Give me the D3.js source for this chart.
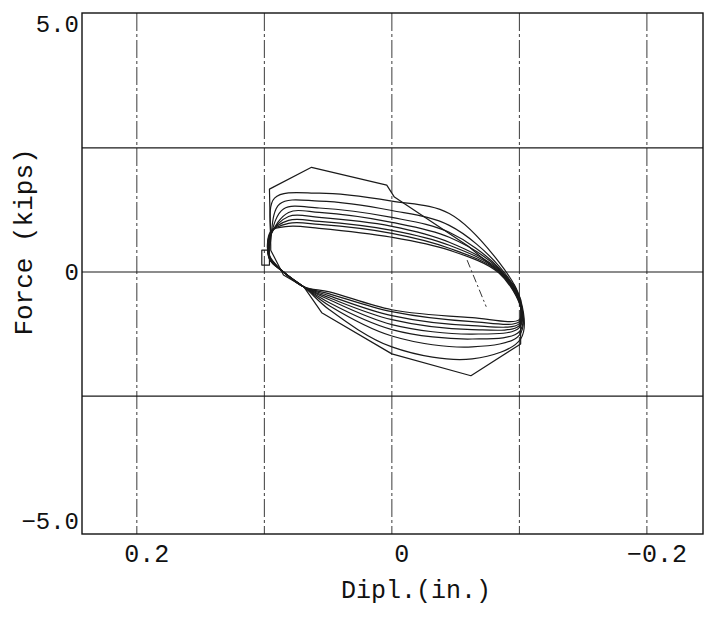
<!DOCTYPE html>
<html>
<head>
<meta charset="utf-8">
<script src="https://cdn.jsdelivr.net/npm/d3@7"></script>
<style>
  body { margin: 0; background: #fff; }
  text { font-family: "Liberation Mono", "DejaVu Sans Mono", monospace; fill: #111; }
</style>
</head>
<body>
<svg id="chart"></svg>
<script>
// tick values and labels
const displGrid = [0.2, 0.1, 0, -0.1, -0.2];
const displLabels = [0.2, 0, -0.2];
const forceGrid = [2.5, 0, -2.5];
const forceLabels = [5.0, 0, -5.0];

// hysteresis cycles, [displacement (in.), force (kips)]
const cycle1 = [[0.095,0.54],[0.096,1.67],[0.063,2.11],[0.004,1.75],[-0.002,1.51],[-0.060,0.52],[-0.096,-0.26],[-0.101,-0.56],[-0.101,-1.45],[-0.062,-2.09],[0.0,-1.65],[0.055,-0.82],[0.069,-0.30],[0.085,-0.06],[0.095,0.44]];
const cycle2 = [[0.095,0.64],[0.092,1.49],[0.057,1.59],[0.0,1.43],[-0.045,1.18],[-0.084,0.20],[-0.101,-0.56],[-0.101,-1.35],[-0.063,-1.75],[0.0,-1.51],[0.049,-0.76],[0.069,-0.30],[0.085,0.0],[0.096,0.34]];
const cycle3 = [[0.095,0.68],[0.088,1.37],[0.057,1.43],[0.0,1.24],[-0.045,0.94],[-0.084,0.12],[-0.101,-0.60],[-0.100,-1.27],[-0.063,-1.51],[0.0,-1.29],[0.049,-0.68],[0.069,-0.30],[0.085,0.0],[0.096,0.32]];
const cycle4 = [[0.095,0.72],[0.085,1.27],[0.057,1.29],[0.0,1.10],[-0.045,0.80],[-0.084,0.08],[-0.101,-0.62],[-0.100,-1.20],[-0.063,-1.35],[0.0,-1.16],[0.049,-0.62],[0.069,-0.30],[0.085,0.0],[0.096,0.30]];
const cycle5 = [[0.095,0.74],[0.081,1.20],[0.057,1.20],[0.0,1.00],[-0.045,0.70],[-0.084,0.06],[-0.101,-0.64],[-0.100,-1.12],[-0.063,-1.25],[0.0,-1.06],[0.049,-0.56],[0.069,-0.30],[0.085,0.0],[0.096,0.30]];
const cycle6 = [[0.095,0.76],[0.081,1.12],[0.057,1.10],[0.0,0.92],[-0.045,0.60],[-0.084,0.04],[-0.101,-0.66],[-0.100,-1.08],[-0.063,-1.16],[0.0,-0.96],[0.049,-0.52],[0.069,-0.30],[0.085,0.0],[0.096,0.28]];
const cycle7 = [[0.095,0.78],[0.081,1.04],[0.057,1.02],[0.0,0.84],[-0.045,0.54],[-0.084,0.02],[-0.101,-0.68],[-0.100,-1.04],[-0.063,-1.08],[0.0,-0.88],[0.049,-0.48],[0.069,-0.30],[0.085,0.0],[0.096,0.28]];
const cycle8 = [[0.095,0.80],[0.081,0.98],[0.057,0.96],[0.0,0.78],[-0.045,0.48],[-0.084,0.0],[-0.101,-0.70],[-0.100,-1.00],[-0.063,-1.00],[0.0,-0.80],[0.049,-0.44],[0.069,-0.30],[0.085,0.0],[0.096,0.26]];
const cycle9 = [[0.095,0.82],[0.081,0.92],[0.057,0.88],[0.0,0.70],[-0.045,0.44],[-0.084,-0.02],[-0.101,-0.72],[-0.100,-0.96],[-0.063,-0.92],[0.0,-0.76],[0.049,-0.40],[0.069,-0.30],[0.085,0.0],[0.096,0.26]];
const innerCycles = [cycle2, cycle3, cycle4, cycle5, cycle6, cycle7, cycle8, cycle9];

// stray dash-dot trace in the middle of the loop, and the little box at the left tip
const strayTrace = [[-0.059,0.24],[-0.074,-0.70]];
const tipBox = [[0.102,0.44],[0.096,0.44],[0.096,0.14],[0.102,0.14]];

const W = 704, H = 621;
const margin = { top: 13, right: 1, bottom: 87, left: 82 };

const svg = d3.select("#chart")
  .attr("width", W)
  .attr("height", H);

svg.append("rect").attr("width", W).attr("height", H).attr("fill", "#fff");

// x axis is reversed: positive displacement on the left
const x = d3.scaleLinear()
  .domain([0.243, -0.244])
  .range([margin.left, W - margin.right]);

const y = d3.scaleLinear()
  .domain([-5.28, 5.22])
  .range([H - margin.bottom, margin.top]);

// vertical grid (broken lines)
svg.append("g")
  .selectAll("line")
  .data(displGrid)
  .join("line")
  .attr("x1", d => x(d)).attr("x2", d => x(d))
  .attr("y1", y.range()[1]).attr("y2", y.range()[0])
  .attr("stroke", "#3a3a3a")
  .attr("stroke-width", 1)
  .attr("stroke-dasharray", "18 3 3 3");

// horizontal grid
svg.append("g")
  .selectAll("line")
  .data(forceGrid)
  .join("line")
  .attr("x1", x.range()[0]).attr("x2", x.range()[1])
  .attr("y1", d => y(d)).attr("y2", d => y(d))
  .attr("stroke", "#1a1a1a")
  .attr("stroke-width", 1.2);

// frame
svg.append("rect")
  .attr("x", x.range()[0])
  .attr("y", y.range()[1])
  .attr("width", x.range()[1] - x.range()[0])
  .attr("height", y.range()[0] - y.range()[1])
  .attr("fill", "none")
  .attr("stroke", "#111")
  .attr("stroke-width", 1.4);

// loops: outer one is a polygon, the later cycles are smoother
const outerLine = d3.line()
  .x(d => x(d[0]))
  .y(d => y(d[1]))
  .curve(d3.curveLinearClosed);

const innerLine = d3.line()
  .x(d => x(d[0]))
  .y(d => y(d[1]))
  .curve(d3.curveCatmullRomClosed.alpha(0.5));

const loops = svg.append("g")
  .attr("fill", "none")
  .attr("stroke", "#1a1a1a")
  .attr("stroke-width", 1.2)
  .attr("stroke-linejoin", "round");

loops.append("path").datum(cycle1).attr("d", outerLine);

loops.selectAll(".inner")
  .data(innerCycles)
  .join("path")
  .attr("class", "inner")
  .attr("d", innerLine);

loops.append("path").datum(tipBox).attr("d", outerLine);

svg.append("path")
  .datum(strayTrace)
  .attr("d", d3.line().x(d => x(d[0])).y(d => y(d[1])))
  .attr("fill", "none")
  .attr("stroke", "#333")
  .attr("stroke-width", 1)
  .attr("stroke-dasharray", "8 3 2 3");

// tick labels
svg.append("g")
  .selectAll("text")
  .data(forceLabels)
  .join("text")
  .attr("x", x.range()[0] - 3)
  .attr("y", d => y(d))
  .attr("dy", "0.35em")
  .attr("text-anchor", "end")
  .style("font-size", "24px")
  .text(d => d === 0 ? "0" : d3.format(".1f")(d));

svg.append("g")
  .selectAll("text")
  .data(displLabels)
  .join("text")
  .attr("x", d => x(d) + 10)
  .attr("y", y.range()[0] + 28)
  .attr("text-anchor", "middle")
  .style("font-size", "25px")
  .text(d => d === 0 ? "0" : d3.format(".1f")(d));

// axis titles
svg.append("text")
  .attr("x", 416)
  .attr("y", 598)
  .attr("text-anchor", "middle")
  .style("font-size", "25px")
  .text("Dipl.(in.)");

svg.append("text")
  .attr("transform", "translate(32, 242) rotate(-90)")
  .attr("text-anchor", "middle")
  .style("font-size", "26px")
  .text("Force (kips)");
</script>
</body>
</html>
